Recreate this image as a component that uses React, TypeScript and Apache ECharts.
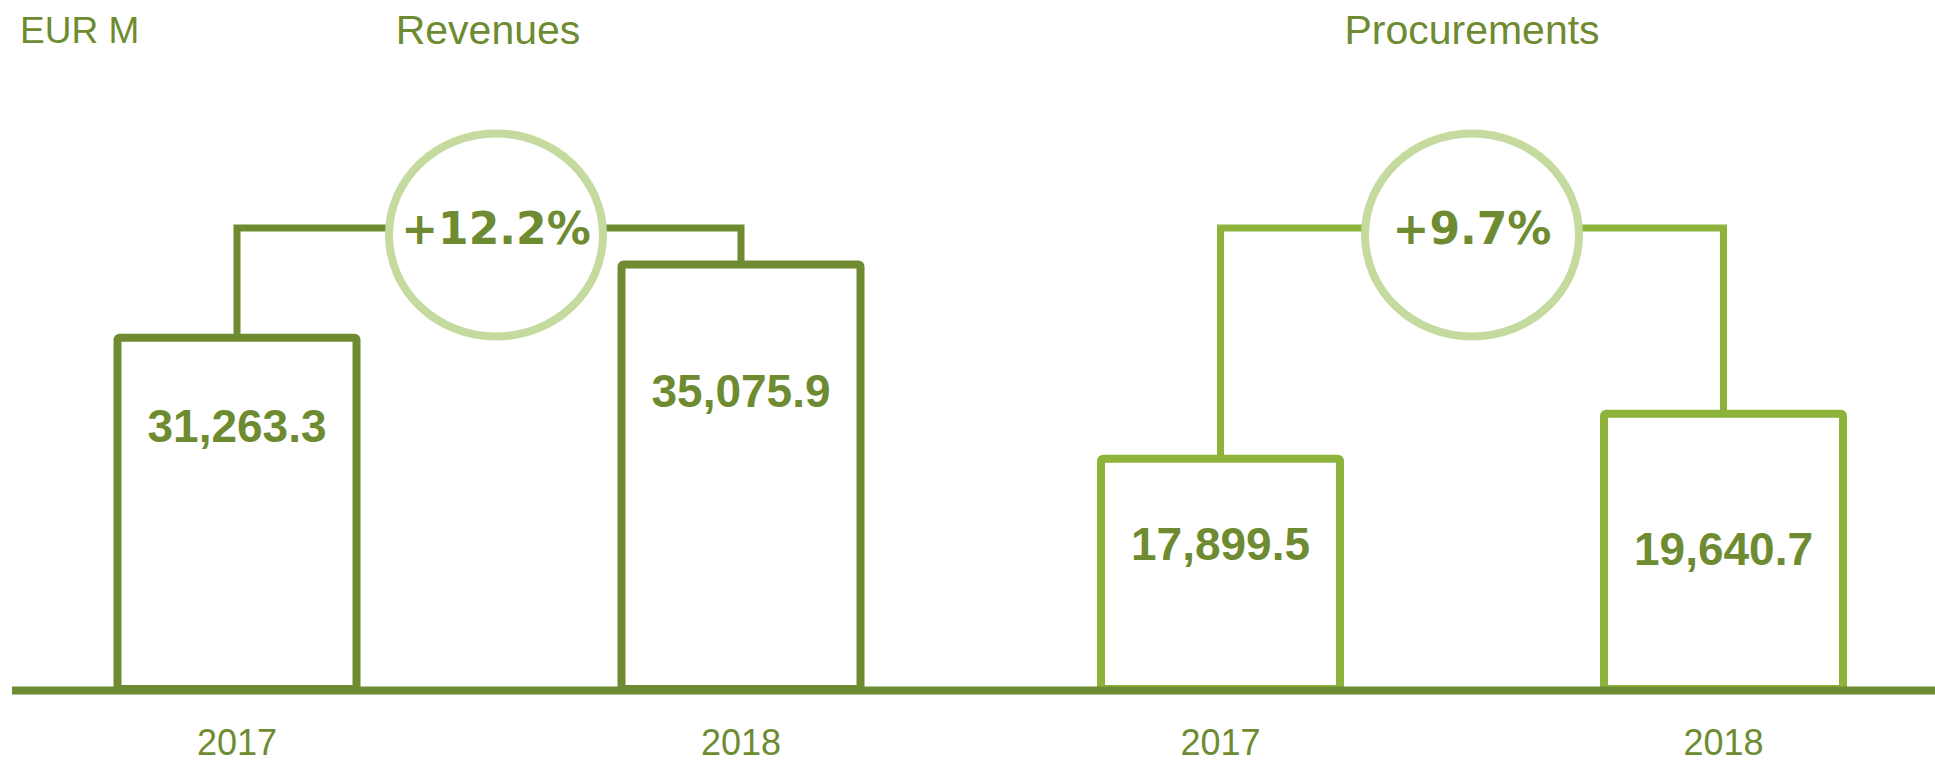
import React, { useEffect, useRef } from "react";
import * as echarts from "echarts";

// ---- data ----
const years = ["2017", "2018"];
const revenues = [31263.3, 35075.9];
const procurements = [17899.5, 19640.7];
const changeLabels = ["+12.2%", "+9.7%"];
const groupTitles = ["Revenues", "Procurements"];
const unitLabel = "EUR M";

// ---- styling ----
const DARK = "#6E8B32";
const LIGHT = "#8DB33A";
const RING = "#C5DA9E";
const SANS = "'Liberation Sans', Arial, sans-serif";
const HEAVY = "'DejaVu Sans', sans-serif";
const labelDrop = [
  [88, 127],
  [85, 135],
];
const BAR_W = 239;
const BRACKET_Y = 228;
const RING_CY = 235;
const ringShift = [7, 0];

const fmt = (v: number) =>
  v.toLocaleString("en-US", { minimumFractionDigits: 1, maximumFractionDigits: 1 });

function barSeries(values: number[], gi: number, color: string) {
  return {
    type: "custom",
    xAxisIndex: gi,
    yAxisIndex: gi,
    clip: false,
    z: 3,
    data: values.map((v, i) => [i, v]),
    renderItem: (params: any, api: any) => {
      const i = api.value(0);
      const v = api.value(1);
      const top = api.coord([i, v]);
      const cs = params.coordSys;
      const base = cs.y + cs.height;
      return {
        type: "group",
        children: [
          {
            type: "rect",
            shape: {
              x: top[0] - BAR_W / 2,
              y: top[1],
              width: BAR_W,
              height: base - top[1],
              r: 2,
            },
            style: { fill: "#ffffff", stroke: color, lineWidth: 8 },
          },
          {
            type: "text",
            x: top[0],
            y: top[1] + labelDrop[gi][i],
            style: {
              text: fmt(v),
              fill: DARK,
              fontFamily: SANS,
              fontWeight: "bold",
              fontSize: 46,
              align: "center",
              verticalAlign: "middle",
            },
          },
        ],
      };
    },
  };
}

function bracketSeries(values: number[], gi: number, color: string) {
  return {
    type: "custom",
    xAxisIndex: gi,
    yAxisIndex: gi,
    clip: false,
    z: 2,
    data: [[0, values[0]]],
    renderItem: (params: any, api: any) => {
      const p0 = api.coord([0, values[0]]);
      const p1 = api.coord([1, values[1]]);
      const cx = (p0[0] + p1[0]) / 2 + ringShift[gi];
      return {
        type: "group",
        children: [
          {
            type: "polyline",
            shape: {
              points: [
                [p0[0], p0[1]],
                [p0[0], BRACKET_Y],
                [p1[0], BRACKET_Y],
                [p1[0], p1[1]],
              ],
            },
            style: { stroke: color, lineWidth: 7, fill: null },
          },
          {
            type: "ellipse",
            shape: { cx, cy: RING_CY, rx: 107, ry: 101.5 },
            style: { fill: "#ffffff", stroke: RING, lineWidth: 8 },
          },
          {
            type: "text",
            x: cx,
            y: 228.5,
            style: {
              text: changeLabels[gi],
              fill: DARK,
              fontFamily: HEAVY,
              fontWeight: "bold",
              fontSize: 44,
              align: "center",
              verticalAlign: "middle",
            },
          },
        ],
      };
    },
  };
}

function xAxis(gi: number) {
  return {
    type: "category",
    gridIndex: gi,
    data: years,
    boundaryGap: false,
    axisLine: { show: false },
    axisTick: { show: false },
    axisLabel: {
      margin: 38,
      lineHeight: 30,
      fontFamily: SANS,
      fontSize: 36,
      color: DARK,
    },
  };
}

export default function App() {
  const ref = useRef<HTMLDivElement>(null);
  useEffect(() => {
    if (!ref.current) return;
    const chart = echarts.init(ref.current, null, { renderer: "svg" });
    chart.setOption({
      animation: false,
      backgroundColor: "#ffffff",
      grid: [
        { left: 237, width: 504, top: 89, bottom: 73 },
        { left: 1220.5, width: 503, top: 89, bottom: 73 },
      ],
      xAxis: [xAxis(0), xAxis(1)],
      yAxis: [
        { type: "value", gridIndex: 0, min: 13000, max: 44200, show: false },
        { type: "value", gridIndex: 1, min: 9000, max: 32200, show: false },
      ],
      series: [
        bracketSeries(revenues, 0, DARK),
        barSeries(revenues, 0, DARK),
        bracketSeries(procurements, 1, LIGHT),
        barSeries(procurements, 1, LIGHT),
      ],
      graphic: [
        {
          type: "line",
          z: 100,
          shape: { x1: 12, y1: 690.5, x2: 1935, y2: 690.5 },
          style: { stroke: DARK, lineWidth: 8 },
        },
        {
          type: "text",
          x: 20,
          y: 30,
          style: {
            text: unitLabel,
            fill: DARK,
            fontFamily: SANS,
            fontSize: 37,
            align: "left",
            verticalAlign: "middle",
          },
        },
        {
          type: "text",
          x: 488,
          y: 30,
          style: {
            text: groupTitles[0],
            fill: DARK,
            fontFamily: SANS,
            fontSize: 41,
            align: "center",
            verticalAlign: "middle",
          },
        },
        {
          type: "text",
          x: 1472,
          y: 30,
          style: {
            text: groupTitles[1],
            fill: DARK,
            fontFamily: SANS,
            fontSize: 41,
            align: "center",
            verticalAlign: "middle",
          },
        },
      ],
    });
    return () => chart.dispose();
  }, []);
  return (
    <div
      ref={ref}
      style={{ width: 1935, height: 762, position: "absolute", left: 0, top: 0 }}
    />
  );
}
